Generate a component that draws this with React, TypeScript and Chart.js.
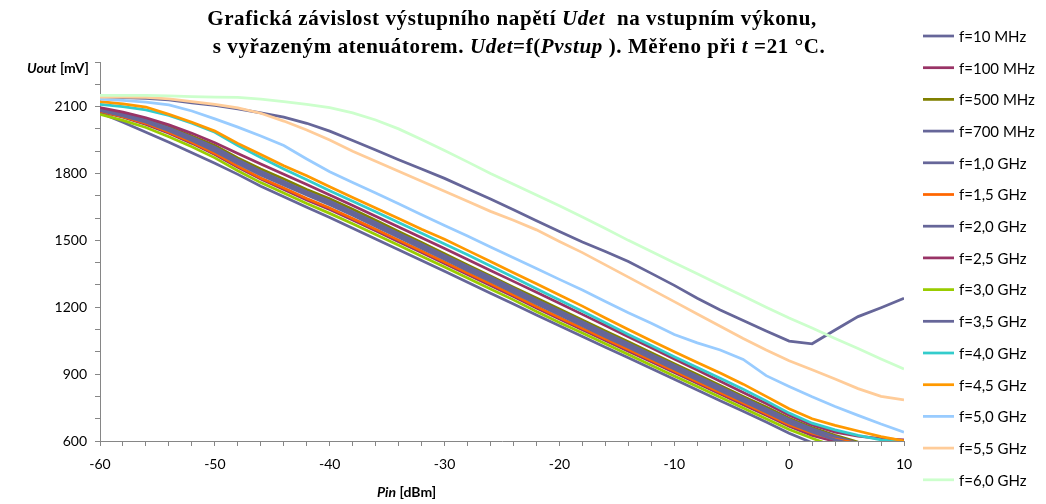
import React, { useEffect, useRef } from "react";
import { Chart, registerables } from "chart.js";

Chart.register(...registerables);

const PIN = [-60, -58, -56, -54, -52, -50, -48, -46, -44, -42, -40, -38, -36, -34, -32, -30, -28, -26, -24, -22, -20, -18, -16, -14, -12, -10, -8, -6, -4, -2, 0, 2, 4, 6, 8, 10];

const NAMES = ["f=10 MHz", "f=100 MHz", "f=500 MHz", "f=700 MHz", "f=1,0 GHz", "f=1,5 GHz", "f=2,0 GHz", "f=2,5 GHz", "f=3,0 GHz", "f=3,5 GHz", "f=4,0 GHz", "f=4,5 GHz", "f=5,0 GHz", "f=5,5 GHz", "f=6,0 GHz"];
const COLORS = ["#666699", "#993366", "#808000", "#666699", "#666699", "#FF6600", "#666699", "#993366", "#99CC00", "#666699", "#33CCCC", "#FF9900", "#99CCFF", "#FFCC99", "#CCFFCC"];

const F_10MHZ = [2072, 2030, 1985, 1940, 1893, 1846, 1796, 1743, 1696, 1648, 1602, 1554, 1506, 1458, 1410, 1361, 1312, 1263, 1215, 1165, 1117, 1069, 1021, 973, 925, 877, 829, 781, 733, 685, 635, 592, 560, 535, 515, 495];
const F_100MHZ = [2078, 2052, 2020, 1980, 1935, 1885, 1828, 1775, 1728, 1681, 1638, 1591, 1543, 1494, 1445, 1396, 1347, 1298, 1248, 1196, 1147, 1099, 1051, 1003, 955, 907, 859, 811, 763, 715, 666, 625, 598, 580, 565, 550];
const F_500MHZ = [2090, 2068, 2042, 2008, 1968, 1925, 1870, 1820, 1775, 1728, 1687, 1640, 1590, 1540, 1490, 1440, 1390, 1340, 1290, 1241, 1192, 1143, 1094, 1045, 996, 947, 898, 849, 800, 752, 702, 660, 625, 595, 570, 550];
const F_700MHZ = [2088, 2066, 2040, 2004, 1962, 1918, 1862, 1810, 1764, 1718, 1676, 1628, 1580, 1531, 1482, 1432, 1383, 1334, 1284, 1233, 1184, 1135, 1086, 1037, 988, 940, 891, 842, 793, 745, 696, 655, 620, 590, 570, 550];
const F_1_0GHZ = [2085, 2062, 2035, 1998, 1955, 1910, 1855, 1802, 1757, 1711, 1668, 1621, 1572, 1523, 1474, 1424, 1375, 1326, 1276, 1225, 1176, 1127, 1078, 1030, 981, 933, 884, 835, 786, 738, 689, 648, 612, 585, 565, 545];
const F_1_5GHZ = [2080, 2055, 2025, 1985, 1940, 1890, 1833, 1780, 1735, 1688, 1645, 1598, 1550, 1501, 1452, 1403, 1354, 1305, 1255, 1203, 1154, 1106, 1058, 1010, 962, 914, 866, 818, 770, 722, 673, 635, 608, 590, 575, 560];
const F_2_0GHZ = [2082, 2058, 2030, 1992, 1948, 1900, 1845, 1793, 1748, 1703, 1660, 1613, 1563, 1514, 1465, 1415, 1365, 1316, 1266, 1215, 1166, 1117, 1068, 1020, 971, 923, 875, 826, 778, 730, 681, 640, 605, 580, 560, 540];
const F_2_5GHZ = [2095, 2075, 2050, 2018, 1980, 1938, 1890, 1842, 1796, 1750, 1703, 1656, 1608, 1560, 1512, 1463, 1414, 1365, 1316, 1267, 1218, 1168, 1118, 1068, 1018, 968, 918, 868, 818, 768, 715, 672, 640, 622, 611, 605];
const F_3_0GHZ = [2065, 2038, 2006, 1965, 1920, 1870, 1812, 1759, 1712, 1665, 1621, 1574, 1526, 1478, 1429, 1380, 1331, 1282, 1233, 1181, 1132, 1084, 1036, 988, 940, 892, 844, 796, 748, 700, 652, 612, 575, 550, 530, 510];
const F_3_5GHZ = [2141, 2140, 2137, 2130, 2117, 2105, 2090, 2072, 2053, 2025, 1990, 1948, 1905, 1862, 1820, 1778, 1732, 1685, 1637, 1588, 1540, 1493, 1450, 1405, 1352, 1298, 1240, 1188, 1140, 1093, 1048, 1036, 1098, 1158, 1198, 1240];
const F_4_0GHZ = [2110, 2100, 2085, 2060, 2025, 1985, 1925, 1872, 1820, 1772, 1723, 1675, 1628, 1580, 1532, 1484, 1435, 1385, 1335, 1283, 1232, 1182, 1130, 1078, 1028, 978, 930, 882, 832, 780, 725, 680, 650, 625, 605, 595];
const F_4_5GHZ = [2122, 2112, 2098, 2065, 2030, 1990, 1935, 1885, 1835, 1790, 1740, 1692, 1645, 1598, 1550, 1505, 1455, 1405, 1355, 1305, 1255, 1205, 1152, 1100, 1050, 1000, 952, 905, 855, 800, 745, 700, 670, 645, 620, 600];
const F_5_0GHZ = [2133, 2128, 2120, 2108, 2080, 2045, 2008, 1968, 1925, 1865, 1808, 1760, 1712, 1664, 1615, 1567, 1519, 1470, 1422, 1374, 1325, 1277, 1226, 1175, 1128, 1078, 1040, 1008, 966, 893, 845, 798, 755, 715, 676, 640];
const F_5_5GHZ = [2143, 2143, 2141, 2135, 2122, 2110, 2094, 2070, 2035, 1995, 1950, 1900, 1855, 1810, 1765, 1720, 1675, 1630, 1590, 1547, 1495, 1445, 1390, 1335, 1280, 1225, 1170, 1115, 1060, 1008, 960, 920, 878, 835, 800, 784];
const F_6_0GHZ = [2150, 2150, 2150, 2148, 2145, 2143, 2141, 2133, 2122, 2110, 2095, 2072, 2040, 2000, 1952, 1903, 1852, 1800, 1752, 1703, 1655, 1605, 1553, 1500, 1450, 1400, 1350, 1300, 1250, 1200, 1152, 1107, 1060, 1015, 968, 923];

const SERIES = [F_10MHZ, F_100MHZ, F_500MHZ, F_700MHZ, F_1_0GHZ, F_1_5GHZ, F_2_0GHZ, F_2_5GHZ, F_3_0GHZ, F_3_5GHZ, F_4_0GHZ, F_4_5GHZ, F_5_0GHZ, F_5_5GHZ, F_6_0GHZ];

const TITLE_LINE1 = [
  { t: "Grafická závislost výstupního napětí ", i: false },
  { t: "Udet", i: true },
  { t: "  na vstupním výkonu,", i: false },
];
const TITLE_LINE2 = [
  { t: "s vyřazeným atenuátorem. ", i: false },
  { t: "Udet", i: true },
  { t: "=f(", i: false },
  { t: "Pvstup", i: true },
  { t: " ). Měřeno při ", i: false },
  { t: "t", i: true },
  { t: " =21 °C.", i: false },
];
const Y_TITLE = [
  { t: "Uout", i: true },
  { t: " [mV]", i: false },
];
const X_TITLE = [
  { t: "Pin", i: true },
  { t: " [dBm]", i: false },
];

const SANS = "Lato, 'Open Sans', sans-serif";
const SERIF = "'Liberation Serif', 'DejaVu Serif', serif";

type Seg = { t: string; i: boolean };

function drawRich(ctx: CanvasRenderingContext2D, segs: Seg[], x: number, y: number, size: number, family: string, align: "left" | "center", spacing: number) {
  const c = ctx as any;
  c.letterSpacing = `${spacing}px`;
  const fontOf = (s: Seg) => `${s.i ? "italic " : ""}bold ${size}px ${family}`;
  let total = 0;
  for (const s of segs) {
    ctx.font = fontOf(s);
    total += ctx.measureText(s.t).width;
  }
  let cx = align === "center" ? x - total / 2 : x;
  ctx.textBaseline = "middle";
  ctx.textAlign = "left";
  ctx.fillStyle = "#000";
  for (const s of segs) {
    ctx.font = fontOf(s);
    ctx.fillText(s.t, cx, y);
    cx += ctx.measureText(s.t).width;
  }
  c.letterSpacing = "0px";
}

const decorPlugin = {
  id: "decor",
  afterDraw(chart: any) {
    const ctx = chart.ctx as CanvasRenderingContext2D;
    ctx.save();
    drawRich(ctx, TITLE_LINE1, 512, 20, 21, SERIF, "center", 0.6);
    drawRich(ctx, TITLE_LINE2, 519, 48, 21, SERIF, "center", 0.6);
    drawRich(ctx, Y_TITLE, 27, 68, 14, SANS, "left", 0);
    drawRich(ctx, X_TITLE, 377, 492, 14, SANS, "left", 0);
    // legend
    for (let i = 0; i < NAMES.length; i++) {
      const y = 36 + i * 31.7;
      ctx.strokeStyle = COLORS[i];
      ctx.lineWidth = 2.75;
      ctx.beginPath();
      ctx.moveTo(923, y);
      ctx.lineTo(954, y);
      ctx.stroke();
      ctx.fillStyle = "#000";
      ctx.font = `15px ${SANS}`;
      ctx.textBaseline = "middle";
      ctx.textAlign = "left";
      ctx.fillText(NAMES[i], 959, y + 1);
    }
    ctx.restore();
  },
};

export default function App() {
  const ref = useRef<HTMLCanvasElement | null>(null);
  useEffect(() => {
    document.body.style.margin = "0";
    const canvas = ref.current!;
    const datasets = SERIES.map((vals, i) => ({
      label: NAMES[i],
      data: PIN.map((x, k) => ({ x, y: vals[k] })),
      borderColor: COLORS[i],
      backgroundColor: COLORS[i],
      borderWidth: 2.75,
      pointRadius: 0,
      fill: false,
      tension: 0,
      order: -i,
    }));
    const axisColor = "#868686";
    const chart = new Chart(canvas, {
      type: "line",
      data: { datasets },
      plugins: [decorPlugin],
      options: {
        animation: false,
        responsive: false,
        maintainAspectRatio: false,
        layout: { padding: { left: 0, top: 62, right: 142, bottom: 0 } },
        plugins: {
          legend: { display: false },
          title: { display: false },
          tooltip: { enabled: false },
        },
        scales: {
          x: {
            type: "linear",
            min: -60,
            max: 10,
            afterFit: (s: any) => { s.height = 63; },
            ticks: {
              stepSize: 2,
              autoSkip: false,
              maxRotation: 0,
              padding: 10,
              color: "#000",
              font: { family: SANS, size: 14 },
              callback: (v: any) => (Number(v) % 10 === 0 ? String(v) : ""),
            },
            grid: { drawOnChartArea: false, drawTicks: true, tickLength: 5, color: axisColor },
            border: { display: true, color: axisColor, width: 1 },
          },
          y: {
            type: "linear",
            min: 600,
            max: 2300,
            afterFit: (s: any) => { s.width = 100; },
            ticks: {
              stepSize: 100,
              autoSkip: false,
              padding: 8,
              color: "#000",
              font: { family: SANS, size: 14 },
              callback: (v: any) => {
                const n = Number(v);
                return (n - 600) % 300 === 0 && n <= 2100 ? String(n) : "";
              },
            },
            grid: { drawOnChartArea: false, drawTicks: true, tickLength: 5, color: axisColor },
            border: { display: true, color: axisColor, width: 1 },
          },
        },
      },
    });
    return () => chart.destroy();
  }, []);
  return (
    <div style={{ position: "fixed", left: 0, top: 0, width: 1046, height: 504, background: "#fff" }}>
      <canvas ref={ref} width={1046} height={504} />
    </div>
  );
}
